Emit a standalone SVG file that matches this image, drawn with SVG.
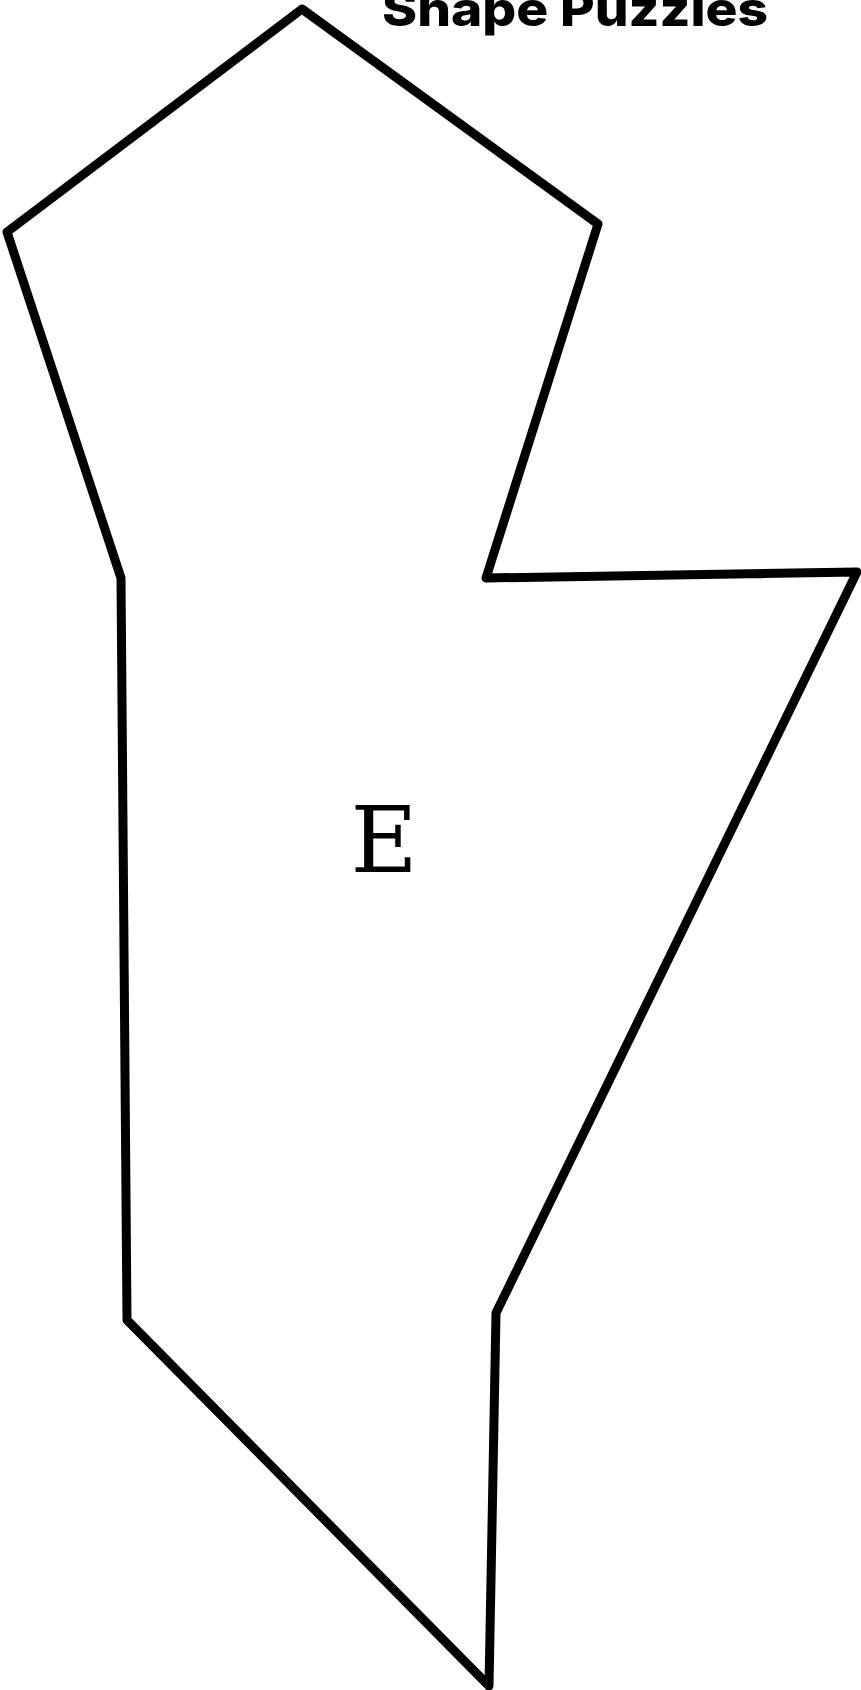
<svg xmlns="http://www.w3.org/2000/svg" width="861" height="1690" viewBox="0 0 861 1690">
<style>
.title{font-family:Inter,"Liberation Sans",sans-serif;font-weight:800;font-size:48px;fill:#000}
.lbl{font-family:"DejaVu Serif","Liberation Serif",serif;font-size:92px;fill:#000}
.shape{fill:#fff;stroke:#000;stroke-width:9;stroke-linejoin:round}
</style>
<rect width="861" height="1690" fill="#fff"/>
<text class="title" x="382" y="26" textLength="386" lengthAdjust="spacingAndGlyphs">Shape Puzzles</text>
<g id="shape-e">
<polygon class="shape" points="302,9 598,224 486,578 857,572 496,1313 489,1686 127,1320 121,578 7,232"/>
<text class="lbl" x="384" y="872" text-anchor="middle">E</text>
</g>
</svg>
